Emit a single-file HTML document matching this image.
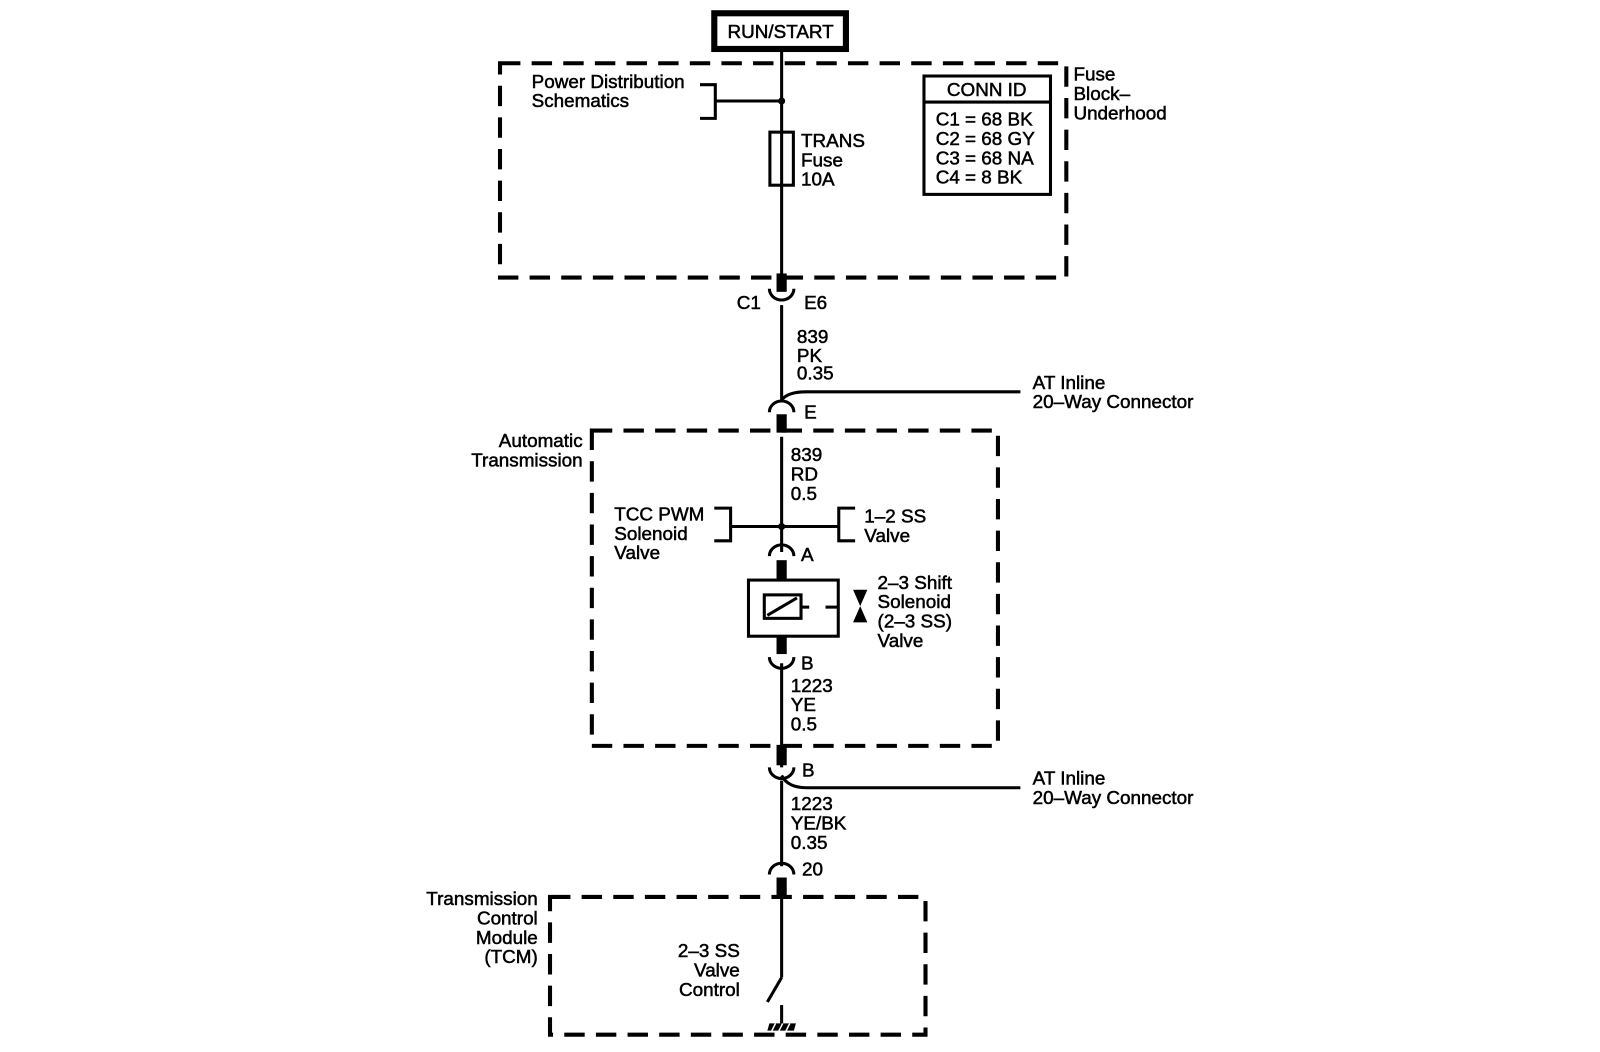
<!DOCTYPE html>
<html><head><meta charset="utf-8"><style>
html,body{margin:0;padding:0;background:#fff;}
svg{display:block;}
text{font-family:"Liberation Sans",sans-serif;font-size:18.5px;fill:#000;stroke:#000;stroke-width:0.5;letter-spacing:0px;}
</style></head><body>
<svg width="1600" height="1052" viewBox="0 0 1568 1031" xmlns="http://www.w3.org/2000/svg">
<rect width="1568" height="1031" fill="#fff"/>
<g fill="none" stroke="#000">
<rect x="700" y="13" width="129" height="35" stroke-width="6"/>
<g stroke-width="4" stroke-dasharray="20 11">
<rect x="490" y="62" width="555" height="210"/>
<rect x="580" y="422" width="398" height="309"/>
<rect x="539" y="879" width="368" height="135"/>
</g>
<g stroke-width="3">
<line x1="766" y1="50" x2="766" y2="275"/>
<line x1="766" y1="299" x2="766" y2="392"/>
<line x1="766" y1="428" x2="766" y2="541"/>
<line x1="766" y1="650" x2="766" y2="752"/>
<line x1="766" y1="765" x2="766" y2="849"/>
<line x1="766" y1="880" x2="766" y2="958"/>
<line x1="766" y1="958" x2="752" y2="982"/>
<line x1="700" y1="99" x2="766" y2="99"/>
<polyline points="686,83 701,83 701,116 686,116"/>
<line x1="716" y1="516" x2="822" y2="516"/>
<polyline points="700,498 716,498 716,530 700,530"/>
<polyline points="838,498 822,498 822,530 838,530"/>
<path d="M766 392 Q772 384 790 384 L1000 384"/>
<path d="M766 760 Q772 772 790 772 L1000 772"/>
<rect x="754.5" y="129.5" width="23" height="52"/>
<rect x="905.5" y="74.5" width="124" height="116"/>
<line x1="905" y1="100" x2="1030" y2="100"/>
<rect x="733.5" y="568.5" width="88" height="55"/>
<rect x="749" y="583" width="36" height="23"/>
<line x1="752" y1="603" x2="781" y2="586"/>
<line x1="785" y1="595" x2="793" y2="595"/>
<line x1="809" y1="595" x2="821" y2="595"/>
<path d="M754 283 A12 11 0 0 0 778 283"/>
<path d="M754 404 A12 11 0 0 1 778 404"/>
<path d="M754 545 A12 11 0 0 1 778 545"/>
<path d="M754 644 A12 11 0 0 0 778 644"/>
<path d="M754 752 A12 11 0 0 0 778 752"/>
<path d="M754 857 A12 11 0 0 1 778 857"/>
<line x1="766" y1="985" x2="766" y2="1003"/>
</g>
</g>
<g fill="#000">
<rect x="761" y="268" width="10" height="18"/>
<rect x="761" y="406" width="10" height="18"/>
<rect x="761" y="549" width="10" height="20"/>
<rect x="761" y="623" width="10" height="18"/>
<rect x="761" y="730" width="10" height="20"/>
<rect x="761" y="860" width="10" height="18"/>
<circle cx="766" cy="99" r="3.5"/>
<circle cx="766" cy="516" r="3.5"/>
<polygon points="836,578 850,578 843,594"/>
<polygon points="836,610 850,610 843,594"/>
<polygon points="754,1003 780,1003 778,1010 752,1010"/>
</g>
<g stroke="#fff" stroke-width="1.5">
<line x1="760" y1="1003" x2="756" y2="1011"/>
<line x1="767" y1="1003" x2="763" y2="1011"/>
<line x1="774" y1="1003" x2="770" y2="1011"/>
</g>
<text x="765" y="37" text-anchor="middle">RUN/START</text>
<text x="521" y="86">Power Distribution</text>
<text x="521" y="105">Schematics</text>
<text x="785" y="144">TRANS</text>
<text x="785" y="163">Fuse</text>
<text x="785" y="182">10A</text>
<text x="967" y="94" text-anchor="middle">CONN ID</text>
<text x="917" y="123">C1 = 68 BK</text>
<text x="917" y="142">C2 = 68 GY</text>
<text x="917" y="161">C3 = 68 NA</text>
<text x="917" y="180">C4 = 8 BK</text>
<text x="1052" y="79">Fuse</text>
<text x="1052" y="98">Block–</text>
<text x="1052" y="117">Underhood</text>
<text x="722" y="303">C1</text>
<text x="788" y="303">E6</text>
<text x="781" y="336">839</text>
<text x="781" y="355">PK</text>
<text x="781" y="372">0.35</text>
<text x="1012" y="381">AT Inline</text>
<text x="1012" y="400">20–Way Connector</text>
<text x="788" y="410">E</text>
<text x="571" y="438" text-anchor="end">Automatic</text>
<text x="571" y="457" text-anchor="end">Transmission</text>
<text x="775" y="452">839</text>
<text x="775" y="471">RD</text>
<text x="775" y="490">0.5</text>
<text x="602" y="510">TCC PWM</text>
<text x="602" y="529">Solenoid</text>
<text x="602" y="548">Valve</text>
<text x="847" y="512">1–2 SS</text>
<text x="847" y="531">Valve</text>
<text x="785" y="550">A</text>
<text x="860" y="577">2–3 Shift</text>
<text x="860" y="596">Solenoid</text>
<text x="860" y="615">(2–3 SS)</text>
<text x="860" y="634">Valve</text>
<text x="785" y="656">B</text>
<text x="775" y="678">1223</text>
<text x="775" y="697">YE</text>
<text x="775" y="716">0.5</text>
<text x="786" y="761">B</text>
<text x="1012" y="769">AT Inline</text>
<text x="1012" y="788">20–Way Connector</text>
<text x="775" y="794">1223</text>
<text x="775" y="813">YE/BK</text>
<text x="775" y="832">0.35</text>
<text x="786" y="858">20</text>
<text x="527" y="887" text-anchor="end">Transmission</text>
<text x="527" y="906" text-anchor="end">Control</text>
<text x="527" y="925" text-anchor="end">Module</text>
<text x="527" y="944" text-anchor="end">(TCM)</text>
<text x="725" y="938" text-anchor="end">2–3 SS</text>
<text x="725" y="957" text-anchor="end">Valve</text>
<text x="725" y="976" text-anchor="end">Control</text>
</svg>
</body></html>
